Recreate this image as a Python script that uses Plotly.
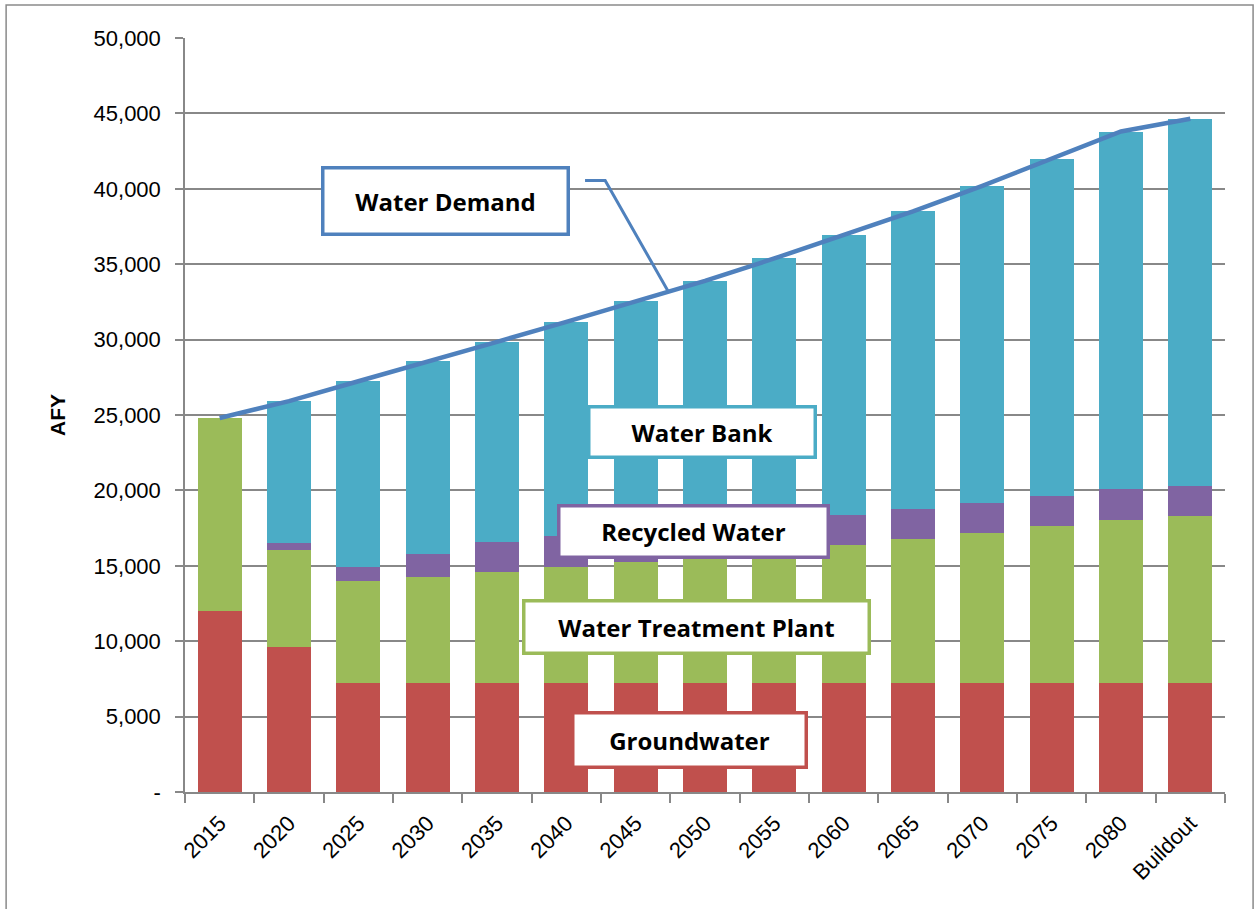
import plotly.graph_objects as go

categories = ["2015", "2020", "2025", "2030", "2035", "2040", "2045", "2050",
              "2055", "2060", "2065", "2070", "2075", "2080", "Buildout"]
groundwater = [12000, 9600, 7200, 7200, 7200, 7200, 7200, 7200,
               7200, 7200, 7200, 7200, 7200, 7200, 7200]
treatment_plant = [12800, 6430, 6780, 7070, 7380, 7730, 8080, 8450,
                   8800, 9170, 9580, 9990, 10430, 10870, 11090]
recycled = [0, 500, 950, 1500, 2010, 2030, 2000, 2000,
            2000, 2010, 2000, 1990, 1990, 2040, 1990]
water_bank = [0, 9390, 12310, 12810, 13260, 14220, 15290, 16240,
              17380, 18540, 19720, 21020, 22380, 23690, 24360]
demand = [24800, 25920, 27240, 28580, 29850, 31180, 32570, 33890,
          35380, 36920, 38500, 40200, 42000, 43800, 44640]
y_ticks = list(range(0, 50001, 5000))
y_tick_text = ["-"] + [f"{v:,}" for v in y_ticks[1:]]

C_GW = "#C0504D"
C_WTP = "#9BBB59"
C_REC = "#8064A2"
C_BANK = "#4BACC6"
C_DEM = "#4F81BD"
GRID = "#888888"

fig = go.Figure()
for name, vals, col in [("Groundwater", groundwater, C_GW),
                        ("Water Treatment Plant", treatment_plant, C_WTP),
                        ("Recycled Water", recycled, C_REC),
                        ("Water Bank", water_bank, C_BANK)]:
    fig.add_trace(go.Bar(x=categories, y=vals, name=name, marker_color=col,
                         marker_line_width=0))
fig.add_trace(go.Scatter(x=categories, y=demand, name="Water Demand", mode="lines",
                         line=dict(color=C_DEM, width=4.5)))

# leader line for "Water Demand" callout
f = 0.47
lx = 6 + f
ly = demand[6] + f * (demand[7] - demand[6])
fig.add_shape(type="path",
              path=f"M 5.27 40550 L 5.56 40550 L {lx} {ly}",
              xref="x", yref="y", line=dict(color=C_DEM, width=3))

# outer chart border
fig.add_shape(type="rect", xref="paper", yref="paper",
              x0=-0.172, x1=1.027, y0=-0.17, y1=1.0437,
              line=dict(color="#8a8a8a", width=1.5), layer="below")

ann_font = dict(family="Open Sans, Arial", size=24, color="black")
pad = 2
for text, xc, yc, w, h, col in [
        ("<b>Water Demand</b>", 3.25, 39220, 246, 67, C_DEM),
        ("<b>Water Bank</b>", 6.95, 23840, 227, 51, C_BANK),
        ("<b>Recycled Water</b>", 6.83, 17270, 270, 52, C_REC),
        ("<b>Water Treatment Plant</b>", 6.88, 10940, 346, 53, C_WTP),
        ("<b>Groundwater</b>", 6.78, 3450, 234, 55, C_GW)]:
    fig.add_annotation(x=xc, y=yc, xref="x", yref="y", text=text, showarrow=False,
                       font=ann_font, bgcolor="white", bordercolor=col,
                       borderwidth=3.5, borderpad=pad,
                       width=w - 2 * pad - 4, height=h - 2 * pad - 4,
                       xanchor="center", yanchor="middle", align="center",
                       valign="middle")

tick_font = dict(family="Liberation Sans, Arial", size=22, color="black")
fig.update_layout(
    barmode="stack", bargap=0.365, showlegend=False,
    width=1257, height=909,
    margin=dict(l=185, r=32, t=38, b=117),
    paper_bgcolor="white", plot_bgcolor="white",
    xaxis=dict(type="category", tickson="boundaries", ticks="outside", ticklen=9,
               tickcolor=GRID, tickwidth=1.5, showline=True, linecolor=GRID,
               linewidth=1.5, tickangle=-45, tickfont=tick_font, showgrid=False,
               ticklabelstandoff=8, range=[-0.5, 14.5]),
    yaxis=dict(range=[0, 50000], tickvals=y_ticks, ticktext=y_tick_text,
               ticks="outside", ticklen=8, tickcolor=GRID, tickwidth=1.5,
               showline=True, linecolor=GRID, linewidth=1.5, showgrid=True,
               gridcolor=GRID, gridwidth=1.5, tickfont=tick_font,
               ticklabelstandoff=10,
               title=dict(text="<b>AFY</b>", font=dict(family="Liberation Sans, Arial",
                                                      size=21, color="black"),
                          standoff=22)),
)
fig.write_html("out.html", config={"displayModeBar": False},
               post_script="document.body.style.margin='0';document.body.style.overflow='hidden';")
